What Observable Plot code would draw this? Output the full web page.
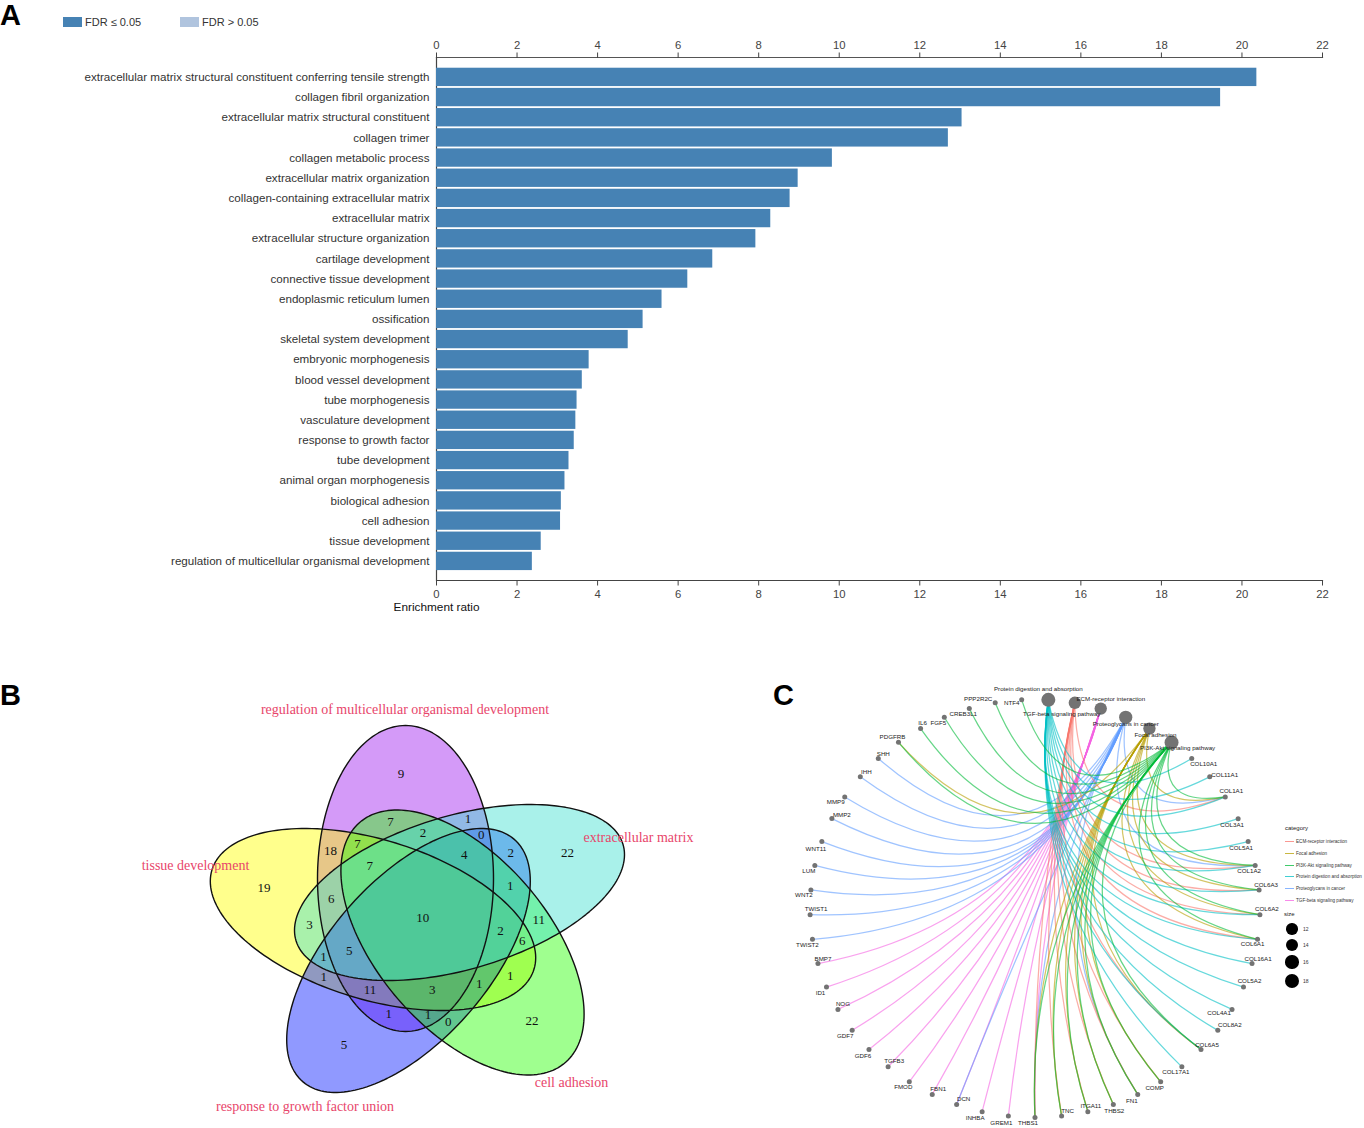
<!DOCTYPE html>
<html><head><meta charset="utf-8">
<script src="https://cdn.jsdelivr.net/npm/d3@7"></script>
<script src="https://cdn.jsdelivr.net/npm/@observablehq/plot@0.6"></script>
<style>
html,body{margin:0;padding:0;background:#fff}
#page{position:relative;width:1364px;height:1128px;overflow:hidden;font-family:"Liberation Sans",Arial,sans-serif}
#page svg{position:absolute;background:transparent;overflow:visible}
.abs{position:absolute;white-space:nowrap}
</style></head><body><div id="page"></div>
<script>
// ---------- Panel A data ----------
const terms = ["extracellular matrix structural constituent conferring tensile strength","collagen fibril organization","extracellular matrix structural constituent","collagen trimer","collagen metabolic process","extracellular matrix organization","collagen-containing extracellular matrix","extracellular matrix","extracellular structure organization","cartilage development","connective tissue development","endoplasmic reticulum lumen","ossification","skeletal system development","embryonic morphogenesis","blood vessel development","tube morphogenesis","vasculature development","response to growth factor","tube development","animal organ morphogenesis","biological adhesion","cell adhesion","tissue development","regulation of multicellular organismal development"];
const ratios = [20.37,19.47,13.05,12.71,9.83,8.98,8.78,8.30,7.93,6.86,6.24,5.60,5.13,4.76,3.79,3.62,3.49,3.46,3.42,3.29,3.19,3.10,3.08,2.60,2.38];
const ratioTicks = [0,2,4,6,8,10,12,14,16,18,20,22];

// ---------- Panel B data ----------
const vennSets = ["regulation of multicellular organismal development","extracellular matrix","cell adhesion","response to growth factor union","tissue development"];
const vennKeys = ["P","T","G","B","Y"];
const vennRegions = ["P","T","Y","G","B","PTGBY","PT","PTB","PG","PTG","PTGB","TB","PY","PYG","PYGT","TBG","PYT","YT","TG","TGBY","TGY","PYTB","YTB","YB","YG","PYB","PYBG","YGB","PB","PBG","BG"];
const vennCounts = [9,22,19,22,5,10,1,0,7,2,4,2,18,7,7,1,6,3,11,2,6,5,1,1,1,11,3,1,1,1,0];
// ellipse geometry: centre, half extents, tilt
const ellipseCx = [405,459,462,408,372.5], ellipseCy=[878,892,942,960,919], ellipseW=[88,165,121.6,121.8,162.7], ellipseH=[153,88,132.5,132,91], ellipseRho=[0,-0.43,0.54,-0.6,0.42];
const ellipseFill = {P:"#a020f0",Y:"#ffff00",B:"#081cff",G:"#2aff06",T:"#40e0d0"};
const drawOrder = ["P","Y","B","G","T"];

// ---------- Panel C data ----------
const pathways = ["Protein digestion and absorption","ECM-receptor interaction","TGF-beta signaling pathway","Proteoglycans in cancer","Focal adhesion","PI3K-Akt signaling pathway"];
const pathwaySize = [18,14,14,16,14,18];
const genes = ["COL10A1","COL11A1","COL1A1","COL3A1","COL5A1","COL1A2","COL6A3","COL6A2","COL6A1","COL16A1","COL5A2","COL4A1","COL8A2","COL6A5","COL17A1","COMP","FN1","THBS2","ITGA11","TNC","THBS1","GREM1","INHBA","DCN","FBN1","FMOD","TGFB3","GDF6","GDF7","NOG","ID1","BMP7","TWIST2","TWIST1","WNT2","LUM","WNT11","MMP2","MMP9","IHH","SHH","PDGFRB","IL6","FGF5","CREB3L1","PPP2R2C","NTF4"];
const ecmGenes = ["COL1A1","COL1A2","COL6A3","COL6A2","COL6A1","COL6A5","COMP","FN1","THBS2","ITGA11","TNC","THBS1"];
const focalGenes = ["PDGFRB","COL1A1","COL1A2","COL6A3","COL6A2","COL6A1","COL6A5","COMP","FN1","THBS2","ITGA11","TNC","THBS1"];
const pi3kGenes = ["NTF4","PPP2R2C","CREB3L1","FGF5","IL6","PDGFRB","COL1A1","COL1A2","COL6A3","COL6A2","COL6A1","COL6A5","COMP","FN1","THBS2","ITGA11","TNC","THBS1"];
const proteinGenes = ["COL10A1","COL11A1","COL1A1","COL3A1","COL5A1","COL1A2","COL6A3","COL6A2","COL6A1","COL16A1","COL5A2","COL4A1","COL8A2","COL6A5","COL17A1"];
const proteoGenes = ["SHH","IHH","MMP9","MMP2","WNT11","LUM","WNT2","TWIST1","TWIST2","DCN","FN1","THBS1","COL1A1","COL1A2"];
const tgfGenes = ["BMP7","ID1","NOG","GDF7","GDF6","TGFB3","FMOD","FBN1","DCN","INHBA","GREM1","THBS1"];
const legendCategories = ["ECM-receptor interaction","Focal adhesion","PI3K-Akt signaling pathway","Protein digestion and absorption","Proteoglycans in cancer","TGF-beta signaling pathway"];
const legendColors = ["#F8766D","#B79F00","#00BA38","#00BFC4","#619CFF","#F564E3"];
const sizeLegend = [12,14,16,18];
// repelled label offsets, clockwise from the first pathway
const labelDx = [-10,36,-39,0,6,6,12,15,6,-6,-7,-6,7,7,-5,6,6,-13,12,6,-6,-6,-6,1,3,6,-7,-7,-7,7,6,-6,6,-6,-7,5,-6,5,-5,6,-7,-6,-6,10,-9,6,5,-6,2,-6,-6,-17,-10];
const labelDy = [-11,-4,5,7,6,6,5,-2,-6,6,6,6,-5,-6,5,-5,-6,4,-5,-5,5,6,7,7,-6,-5,6,7,6,-5,-5,5,-6,6,6,-5,6,-5,6,-6,5,6,7,-4,5,-5,-5,-5,-6,6,5,-4,3];

const page = document.getElementById("page");
function place(svg,l,t){svg.style.left=l+"px";svg.style.top=t+"px";page.appendChild(svg);}
function html(text,l,t,css){const d=document.createElement("div");d.className="abs";d.textContent=text;d.style.cssText=`left:${l}px;top:${t}px;`+css;page.appendChild(d);return d;}

// ---------- Panel A ----------
const rows = terms.map((t,i)=>({term:t,ratio:ratios[i]}));
const chartA = Plot.plot({
  width:1364,height:640,marginLeft:436,marginRight:42,marginTop:57,marginBottom:60,
  style:{fontFamily:"'Liberation Sans',Arial,sans-serif",background:"transparent"},
  x:{domain:[0,22],ticks:ratioTicks},
  y:{domain:terms,range:[65.9,571.9],padding:0.09,round:false,label:null},
  marks:[
    Plot.ruleX([0],{stroke:"#444",strokeWidth:1.2}),
    Plot.barX(rows,{x:"ratio",y:"term",fill:"#4682b4"}),
    Plot.frame({anchor:"top",stroke:"#555",strokeWidth:1.2}),
    Plot.frame({anchor:"bottom",stroke:"#444",strokeWidth:1.2}),
    Plot.axisX({anchor:"top",ticks:ratioTicks,tickSize:5.5,tickPadding:3,fontSize:11.3,label:null,color:"#444"}),
    Plot.axisX({anchor:"bottom",ticks:ratioTicks,tickSize:5.5,tickPadding:4,fontSize:11.3,label:null,color:"#444"}),
    Plot.axisY({anchor:"left",tickSize:0,tickPadding:7,fontSize:11.63,label:null,color:"#333",textOverflow:null,lineWidth:Infinity}),
    Plot.text(["Enrichment ratio"],{x:()=>0,frameAnchor:"bottom",dy:30,textAnchor:"middle",fontSize:11.8,fill:"#111"})
  ]
});
place(chartA,0,0);

// legend A
[[63,"#4682b4","FDR ≤ 0.05",85],[180,"#b0c4de","FDR > 0.05",202]].forEach(([l,c,t,tl])=>{
  const s=document.createElement("div");s.className="abs";s.style.cssText=`left:${l}px;top:17px;width:19px;height:10px;background:${c}`;page.appendChild(s);
  html(t,tl,16,"font-size:11px;color:#333;line-height:13px");
});
html("A",0,-1,"font-size:29px;font-weight:bold;line-height:32px;color:#000");
html("B",0,679,"font-size:29px;font-weight:bold;line-height:32px;color:#000");
html("C",773,679,"font-size:29px;font-weight:bold;line-height:32px;color:#000");

// ---------- Panel B ----------
const ellipses = vennKeys.map((k,i)=>({k,cx:ellipseCx[i],cy:ellipseCy[i],w:ellipseW[i],h:ellipseH[i],rho:ellipseRho[i]}));
const outline = [];
drawOrder.forEach(k=>{
  const e=ellipses.find(d=>d.k===k), phi=Math.acos(e.rho);
  d3.range(0,360,2).forEach(a=>{const t=a*Math.PI/180;outline.push({k,x:e.cx+e.w*Math.cos(t),y:e.cy+e.h*Math.cos(t-phi)});});
});
const inside=(e,x,y)=>{const u=(x-e.cx)/e.w,v=(y-e.cy)/e.h;return u*u-2*e.rho*u*v+v*v<=1-e.rho*e.rho;};
// each count sits at the centre of gravity of its own region of the diagram
const sums = new Map();
for(let x=200;x<640;x+=2)for(let y=715;y<1110;y+=2){
  const key=vennKeys.filter((k,i)=>inside(ellipses[i],x,y)).join("");
  if(!key)continue;
  const s=sums.get(key)||{x:0,y:0,n:0};s.x+=x;s.y+=y;s.n++;sums.set(key,s);
}
const norm=r=>vennKeys.filter(k=>r.includes(k)).join("");
const midX=d3.mean(ellipseCx), midY=d3.mean(ellipseCy);
const countCells = vennRegions.map((r,i)=>{
  const s=sums.get(norm(r))||{x:0,y:0,n:1}, k=r.length===1?1.03:1;
  return{r,n:vennCounts[i],x:midX+(s.x/s.n-midX)*k,y:midY+(s.y/s.n-midY)*k-1.5};
});
const setLabelAt = {x:[404.5,638,571,304.5,195],y:[709,837,1082,1106,865]};
const setLabels = vennSets.map((s,i)=>({s,x:setLabelAt.x[i],y:setLabelAt.y[i]}));
const chartB = Plot.plot({
  width:1364,height:1128,margin:0,
  style:{background:"transparent",fontFamily:"'Liberation Serif','Times New Roman',serif"},
  x:{domain:[0,1364],range:[0,1364],axis:null},
  y:{domain:[0,1128],range:[0,1128],axis:null},
  marks:[
    ...drawOrder.map(k=>Plot.line(outline.filter(d=>d.k===k),{x:"x",y:"y",curve:"linear-closed",fill:ellipseFill[k],fillOpacity:0.45,stroke:"none"})),
    ...drawOrder.map(k=>Plot.line(outline.filter(d=>d.k===k),{x:"x",y:"y",curve:"linear-closed",fill:"none",stroke:"#111",strokeWidth:1.4})),
    Plot.text(countCells,{x:"x",y:"y",text:d=>String(d.n),fontSize:13,fill:"#111"}),
    Plot.text(setLabels,{x:"x",y:"y",text:"s",fontSize:14,fill:"#e8456b"})
  ]
});
place(chartB,0,0);

// ---------- Panel C ----------
const ringNames = [...pathways,...genes];
const stepDeg = 360/ringNames.length, startDeg = 3.4;
const nodes = ringNames.map((name,i)=>{const a=(startDeg+i*stepDeg)*Math.PI/180;return{name,i,ux:Math.sin(a),uy:Math.cos(a),size:i<pathways.length?pathwaySize[i]:2.3,dx:labelDx[i],dy:labelDy[i]};});
const nodeBy = new Map(nodes.map(n=>[n.name,n]));
// drawn bottom to top in the order the reference shows them overlapping
const edgeGroups = [["TGF-beta signaling pathway",tgfGenes],["Proteoglycans in cancer",proteoGenes],["ECM-receptor interaction",ecmGenes],["Focal adhesion",focalGenes],["Protein digestion and absorption",proteinGenes],["PI3K-Akt signaling pathway",pi3kGenes]];
const edges = edgeGroups.flatMap(([p,gs])=>gs.map(g=>({p,g,a:nodeBy.get(p),b:nodeBy.get(g)})));
const RX=225,RY=209,CX=1034.5,CY=908;
function bowed(context){
  let pts;
  return {lineStart(){pts=[];},point(x,y){pts.push([x,y]);},lineEnd(){
    const [p,q]=pts, mx=(p[0]+q[0])/2,my=(p[1]+q[1])/2;
    const len=Math.hypot(q[0]-p[0],q[1]-p[1]), f=Math.min(1.15,len/280);
    context.moveTo(p[0],p[1]);
    context.quadraticCurveTo(mx+f*(CX-mx),my+f*(CY-my),q[0],q[1]);
  }};
}
const chartC = Plot.plot({
  width:1364,height:1128,margin:0,
  style:{background:"transparent",fontFamily:"'Liberation Sans',Arial,sans-serif"},
  x:{domain:[-1,1],range:[CX-RX,CX+RX],axis:null},
  y:{domain:[-1,1],range:[CY+RY,CY-RY],axis:null},
  r:{domain:[0,18],range:[0,7]},
  color:{domain:legendCategories,range:legendColors},
  marks:[
    Plot.link(edges,{x1:d=>d.a.ux,y1:d=>d.a.uy,x2:d=>d.b.ux,y2:d=>d.b.uy,stroke:"p",strokeOpacity:0.6,strokeWidth:1.25,curve:bowed}),
    Plot.dot(nodes,{x:"ux",y:"uy",r:"size",fill:"#737373"}),
    Plot.text(nodes,{x:d=>d.ux+d.dx/RX,y:d=>d.uy-d.dy/RY,text:"name",fontSize:6.2,fill:"#222"})
  ]
});
place(chartC,0,0);

// legend C
html("category",1285,824,"font-size:6px;color:#222;line-height:8px");
legendCategories.forEach((c,i)=>{
  const y=Math.round(841+i*11.8);
  const s=document.createElement("div");s.className="abs";s.style.cssText=`left:1285px;top:${y}px;width:9px;height:1px;background:${legendColors[i]};opacity:.75`;page.appendChild(s);
  html(c,1296,y-3,"font-size:4.6px;color:#333;line-height:7px");
});
html("size",1284,910,"font-size:6px;color:#222;line-height:8px");
const rLeg=d3.scaleSqrt().domain([0,18]).range([0,7]);
[929,945,962,981].forEach((y,i)=>{
  const v=sizeLegend[i],r=rLeg(v);
  const s=document.createElement("div");s.className="abs";s.style.cssText=`left:${1292-r}px;top:${y-r}px;width:${2*r}px;height:${2*r}px;border-radius:50%;background:#000`;page.appendChild(s);
  html(String(v),1303,y-3,"font-size:5px;color:#333;line-height:7px");
});
</script></body></html>
